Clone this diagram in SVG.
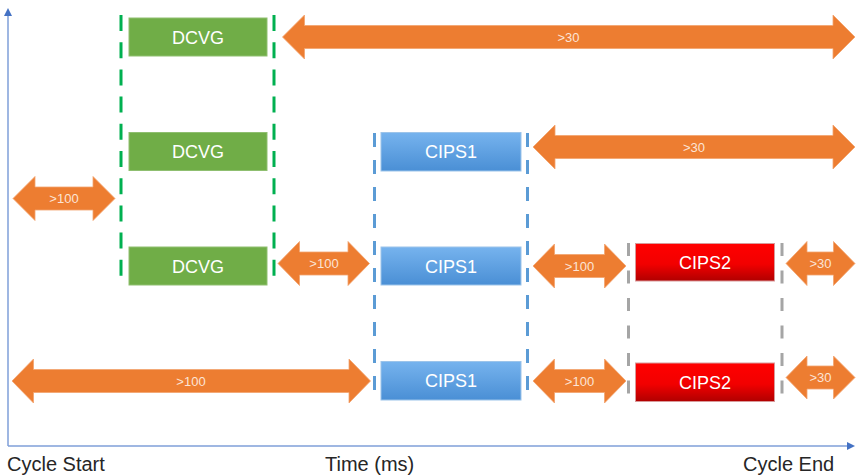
<svg xmlns="http://www.w3.org/2000/svg" width="857" height="476" viewBox="0 0 857 476">
<defs>
<linearGradient id="gBlue" x1="0" y1="0" x2="0" y2="1">
<stop offset="0" stop-color="#76b3ee"/>
<stop offset="1" stop-color="#4a8fd5"/>
</linearGradient>
<linearGradient id="gRed" x1="0" y1="0" x2="0" y2="1">
<stop offset="0" stop-color="#ff0000"/>
<stop offset="0.55" stop-color="#f20000"/>
<stop offset="1" stop-color="#b00000"/>
</linearGradient>
</defs>
<style>
.box text, .lbl { font-family: "Liberation Sans", Arial, sans-serif; }
.boxt { font-size: 18px; fill: #ffffff; text-anchor: middle; }
.dcvg { fill: #70AD47; stroke: #8fbf70; stroke-width: 1; }
.cips1 { fill: url(#gBlue); stroke: #9cc4ea; stroke-width: 1; }
.cips2 { fill: url(#gRed); stroke: #d89a9a; stroke-width: 1; }
.arr { fill: #ED7D31; stroke: #f2a36e; stroke-width: 0.8; }
.arrt { font-family: "Liberation Sans", Arial, sans-serif; font-size: 13px; fill: #fce4d6; text-anchor: middle; }
.axis { stroke: #7f9fd8; stroke-width: 1.5; fill: none; }
.axhead { fill: #4472C4; }
.lbl { font-size: 20px; fill: #262626; }
.dg { stroke: #00B050; stroke-width: 3; stroke-dasharray: 16 11.2; fill: none; }
.db { stroke: #5B9BD5; stroke-width: 3; stroke-dasharray: 14 13; fill: none; }
.dy { stroke: #A5A5A5; stroke-width: 3; stroke-dasharray: 13 14.5; fill: none; }
</style>
<rect width="857" height="476" fill="#ffffff"/>

<g id="axes">
<line class="axis" x1="8" y1="446" x2="8" y2="15"/>
<polygon class="axhead" points="8,8 4,16 12,16"/>
<line class="axis" x1="8" y1="446" x2="848" y2="446"/>
<polygon class="axhead" points="855,446 847,442 847,450"/>
<text class="lbl" x="7" y="471">Cycle Start</text>
<text class="lbl" x="325" y="471">Time (ms)</text>
<text class="lbl" x="743" y="471">Cycle End</text>
</g>

<g id="connectors">
<line class="dg" x1="121" y1="15" x2="121" y2="276"/>
<line class="dg" x1="274" y1="15" x2="274" y2="276"/>
<line class="db" x1="374.5" y1="133" x2="374.5" y2="393"/>
<line class="db" x1="527.5" y1="133" x2="527.5" y2="393"/>
<line class="dy" x1="628.5" y1="243" x2="628.5" y2="396"/>
<line class="dy" x1="782" y1="243" x2="782" y2="396"/>
</g>

<g id="arrows">
<g id="a1"><path class="arr" d="M282.5,37 L304.5,15 L304.5,25.5 L833,25.5 L833,15 L855,37 L833,59 L833,48.5 L304.5,48.5 L304.5,59 Z"/><text class="arrt" x="568.5" y="41.5">&gt;30</text></g>
<g id="a2"><path class="arr" d="M533,147 L555,125 L555,135.5 L833,135.5 L833,125 L855,147 L833,169 L833,158.5 L555,158.5 L555,169 Z"/><text class="arrt" x="694" y="151.5">&gt;30</text></g>
<g id="a3"><path class="arr" d="M13,198.5 L35,176.5 L35,187 L93,187 L93,176.5 L115,198.5 L93,220.5 L93,210 L35,210 L35,220.5 Z"/><text class="arrt" x="64" y="203">&gt;100</text></g>
<g id="a4"><path class="arr" d="M278,263.5 L299.5,241.5 L299.5,252 L348,252 L348,241.5 L369.5,263.5 L348,285.5 L348,275 L299.5,275 L299.5,285.5 Z"/><text class="arrt" x="324" y="268">&gt;100</text></g>
<g id="a5"><path class="arr" d="M533,266 L554.5,244 L554.5,254.5 L604.5,254.5 L604.5,244 L626,266 L604.5,288 L604.5,277.5 L554.5,277.5 L554.5,288 Z"/><text class="arrt" x="579.5" y="270.5">&gt;100</text></g>
<g id="a6"><path class="arr" d="M786,263.5 L807,241.5 L807,252 L833.5,252 L833.5,241.5 L855,263.5 L833.5,285.5 L833.5,275 L807,275 L807,285.5 Z"/><text class="arrt" x="820.5" y="268">&gt;30</text></g>
<g id="a7"><path class="arr" d="M12,381 L33.5,359 L33.5,369.5 L349,369.5 L349,359 L370.5,381 L349,403 L349,392.5 L33.5,392.5 L33.5,403 Z"/><text class="arrt" x="191" y="385.5">&gt;100</text></g>
<g id="a8"><path class="arr" d="M533,381 L554.5,359 L554.5,369.5 L604.5,369.5 L604.5,359 L626,381 L604.5,403 L604.5,392.5 L554.5,392.5 L554.5,403 Z"/><text class="arrt" x="579.5" y="385.5">&gt;100</text></g>
<g id="a9"><path class="arr" d="M786,377.5 L807,356 L807,366 L833.5,366 L833.5,356 L855,377.5 L833.5,399 L833.5,389 L807,389 L807,399 Z"/><text class="arrt" x="820.5" y="382">&gt;30</text></g>
</g>

<g id="dcvg1" class="box"><rect class="dcvg" x="129" y="18" width="138" height="38"/><text class="boxt" x="198" y="43.5">DCVG</text></g>
<g id="dcvg2" class="box"><rect class="dcvg" x="129" y="132.5" width="138" height="38"/><text class="boxt" x="198" y="158">DCVG</text></g>
<g id="dcvg3" class="box"><rect class="dcvg" x="129" y="247" width="138" height="38"/><text class="boxt" x="198" y="272.5">DCVG</text></g>

<g id="cips1a" class="box"><rect class="cips1" x="381" y="132.5" width="140" height="38.5"/><text class="boxt" x="451" y="158">CIPS1</text></g>
<g id="cips1b" class="box"><rect class="cips1" x="381" y="247" width="140" height="38"/><text class="boxt" x="451" y="272.5">CIPS1</text></g>
<g id="cips1c" class="box"><rect class="cips1" x="381" y="361.5" width="140" height="38.5"/><text class="boxt" x="451" y="387">CIPS1</text></g>

<g id="cips2a" class="box"><rect class="cips2" x="635.5" y="243.5" width="139" height="37.5"/><text class="boxt" x="705" y="268.5">CIPS2</text></g>
<g id="cips2b" class="box"><rect class="cips2" x="635.5" y="363" width="139" height="38.5"/><text class="boxt" x="705" y="388.5">CIPS2</text></g>
</svg>
